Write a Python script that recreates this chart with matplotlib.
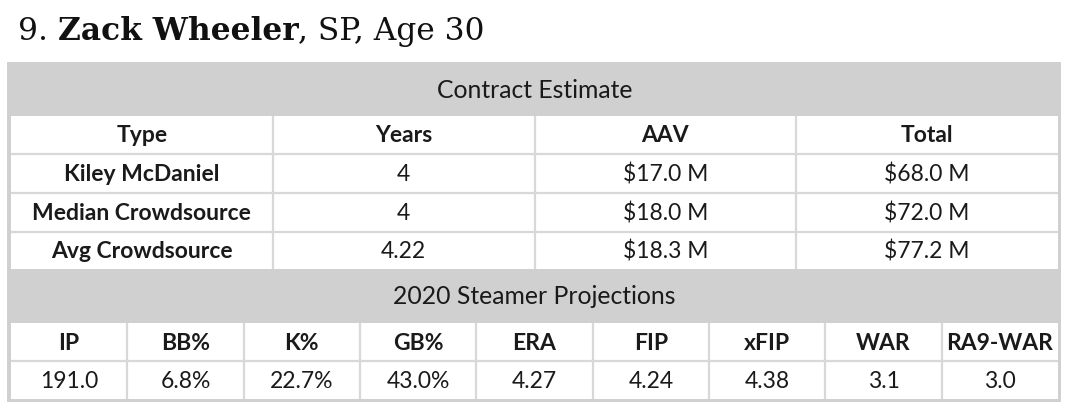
import matplotlib
matplotlib.use("Agg")
import matplotlib.pyplot as plt
from matplotlib.patches import Rectangle

title_num = "9. "
title_name = "Zack Wheeler"
title_rest = ", SP, Age 30"

contract_title = "Contract Estimate"
contract_cols = ["Type", "Years", "AAV", "Total"]
contract_types = ["Kiley McDaniel", "Median Crowdsource", "Avg Crowdsource"]
contract_years = ["4", "4", "4.22"]
contract_aav = ["$17.0 M", "$18.0 M", "$18.3 M"]
contract_total = ["$68.0 M", "$72.0 M", "$77.2 M"]

proj_title = "2020 Steamer Projections"
proj_cols = ["IP", "BB%", "K%", "GB%", "ERA", "FIP", "xFIP", "WAR", "RA9-WAR"]
proj_vals = ["191.0", "6.8%", "22.7%", "43.0%", "4.27", "4.24", "4.38", "3.1", "3.0"]

W, H = 1068, 412
fig = plt.figure(figsize=(W / 100, H / 100), dpi=100)
ax = fig.add_axes([0, 0, 1, 1])
ax.set_xlim(0, W)
ax.set_ylim(H, 0)
ax.axis("off")

GRAY = "#d0d0d0"
LINE = "#d8d8d8"
TXT = "#1a1a1a"
FONT = "Lato"
CELL_FS = 16.5
HEAD_FS = 17.8

# title
TFS = 22.5
t1 = ax.text(18, 40, title_num, fontsize=TFS, family="DejaVu Serif", color="#111", va="baseline")
fig.canvas.draw()
r = fig.canvas.get_renderer()
def right_edge(t):
    bb = t.get_window_extent(renderer=r)
    return bb.x1
x = right_edge(t1)
t2 = ax.text(x, 40, title_name, fontsize=TFS, family="DejaVu Serif", weight="bold", color="#111", va="baseline")
fig.canvas.draw()
x = right_edge(t2)
ax.text(x, 40, title_rest, fontsize=TFS, family="DejaVu Serif", color="#111", va="baseline")

L, R = 11, 1058
# outer gray
ax.add_patch(Rectangle((7, 62), 1054, 340, facecolor=GRAY, edgecolor="none"))

# contract section
top_rows = [116, 154, 193, 232, 269]
ax.add_patch(Rectangle((L, top_rows[0]), R - L, top_rows[-1] - top_rows[0], facecolor="white", edgecolor="none"))
ax.text((L + R) / 2, 90, contract_title, fontsize=HEAD_FS, family=FONT, color=TXT, ha="center", va="center")
ncol = len(contract_cols)
cw = (R - L) / ncol
for y in top_rows[1:-1]:
    ax.plot([L, R], [y, y], color=LINE, lw=1.6, solid_capstyle="butt")
for i in range(1, ncol):
    xx = L + i * cw
    ax.plot([xx, xx], [top_rows[0], top_rows[-1]], color=LINE, lw=1.6, solid_capstyle="butt")
table = [contract_cols] + [list(rw) for rw in zip(contract_types, contract_years, contract_aav, contract_total)]
for ri, row in enumerate(table):
    yc = (top_rows[ri] + top_rows[ri + 1]) / 2 + 1
    for ci, val in enumerate(row):
        bold = ri == 0 or ci == 0
        ax.text(L + (ci + 0.5) * cw, yc, val, fontsize=CELL_FS, family=FONT,
                weight="bold" if bold else "normal", color=TXT, ha="center", va="center")

# projections section
bot_rows = [323, 361, 399]
ax.add_patch(Rectangle((L, bot_rows[0]), R - L, bot_rows[-1] - bot_rows[0], facecolor="white", edgecolor="none"))
ax.text((L + R) / 2, 297, proj_title, fontsize=HEAD_FS, family=FONT, color=TXT, ha="center", va="center")
n2 = len(proj_cols)
cw2 = (R - L) / n2
ax.plot([L, R], [bot_rows[1], bot_rows[1]], color=LINE, lw=1.6, solid_capstyle="butt")
for i in range(1, n2):
    xx = L + i * cw2
    ax.plot([xx, xx], [bot_rows[0], bot_rows[-1]], color=LINE, lw=1.6, solid_capstyle="butt")
for ri, row in enumerate([proj_cols, proj_vals]):
    yc = (bot_rows[ri] + bot_rows[ri + 1]) / 2 + 1
    for ci, val in enumerate(row):
        ax.text(L + (ci + 0.5) * cw2, yc, val, fontsize=CELL_FS, family=FONT,
                weight="bold" if ri == 0 else "normal", color=TXT, ha="center", va="center")

fig.savefig("out.png", dpi=100)
